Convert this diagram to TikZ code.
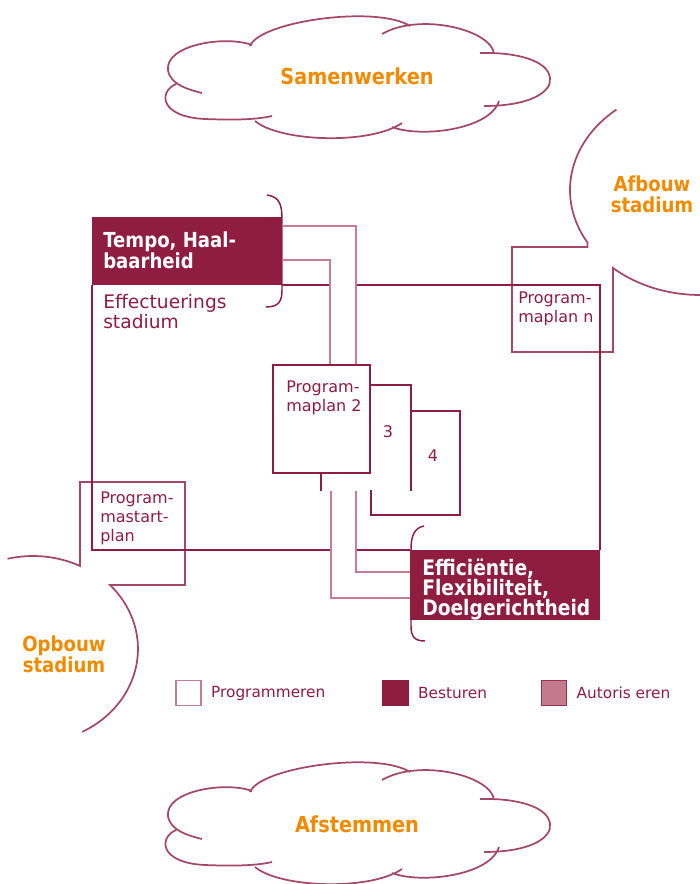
\documentclass[tikz,border=0pt]{standalone}
\usepackage{fontspec}
\setmainfont{DejaVu Sans}[BoldFeatures={FakeStretch=0.875}]
\usetikzlibrary{calc, positioning}
\definecolor{wine}{HTML}{8E1D41}
\definecolor{authc}{HTML}{C47D92}
\definecolor{cloudc}{HTML}{A54868}
\definecolor{orangec}{HTML}{F28A00}
\definecolor{autfill}{HTML}{C27A8C}
\tikzset{
    cloudline/.style={draw=cloudc, line width=1.3pt},
    planline/.style={draw=wine, line width=1.3pt},
    authline/.style={draw=authc, line width=1.5pt},
    bracket/.style={draw=wine, line width=1.1pt},
    besturen/.style={rectangle, fill=wine, inner sep=0pt, minimum width=142.5pt},
    bestext/.style={anchor=north west, inner sep=0pt, text=white, align=left},
    planbox/.style={rectangle, draw=wine, line width=1.3pt, fill=white, inner sep=0pt},
    plantext/.style={anchor=north west, inner sep=0pt, text=wine, align=left, font=\fontsize{12}{14}\selectfont},
    numtext/.style={inner sep=0pt, text=wine, font=\fontsize{12}{14}\selectfont},
    stagetext/.style={anchor=north west, inner sep=0pt, text=wine, align=left, font=\fontsize{14}{15}\selectfont},
    stadium/.style={anchor=north, inner sep=0pt, text=orangec, align=center, font=\bfseries\fontsize{15.5}{15.5}\selectfont},
    cloudtext/.style={anchor=base, inner sep=0pt, text=orangec, font=\bfseries\fontsize{16.5}{17}\selectfont},
    legbox/.style={rectangle, minimum size=18.5pt, inner sep=0pt, line width=1.1pt},
    legtext/.style={inner sep=0pt, text=wine, font=\fontsize{11.5}{13}\selectfont},
    cloudshape/.pic={
        \draw[cloudline] (-105,-34) .. controls (-132,-44) and (-192,-34) .. (-189,-9) .. controls (-187,6) and (-167,11) .. (-155,14)
            (-181,5) .. controls (-199,13) and (-197,38) .. (-152,40) .. controls (-127,41) and (-102,41) .. (-85,37)
            (-102,42) .. controls (-77,63) and (13,66) .. (45,44)
            (35,48) .. controls (63,59) and (133,51) .. (142,22)
            (127,27) .. controls (173,27) and (195,13) .. (193,-1) .. controls (191,-19) and (158,-27) .. (123,-26)
            (137,-25) .. controls (135,-49) and (63,-67) .. (25,-45)
            (-107,-33) .. controls (-97,-58) and (20,-74) .. (53,-53);
    }
}

\begin{document}
\begin{tikzpicture}[x=0.75pt, y=-0.75pt]
    \useasboundingbox (0,0) rectangle (699,884);

    % clouds top and bottom
    \pic (samencloud) at (357,79) {cloudshape};
    \node[cloudtext] (samen) at (357,85) {Samenwerken};
    \pic (afstemcloud) at (357,825) {cloudshape};
    \node[cloudtext] (afstem) at (357,832) {Afstemmen};

    % stage clouds with their tabs
    \draw[cloudline] (700,190) ++(230:130 and 105) arc[start angle=230, end angle=150, x radius=130, y radius=105]
        |- (512,247) -- (512,352) -- (613,352) -- (613,268) arc[start angle=132, end angle=88, x radius=130, y radius=105];
    \draw[cloudline] (33,650) ++(-104:105 and 94) arc[start angle=-104, end angle=-63.4, x radius=105, y radius=94]
        |- (185,482) -- (185,585) -- (110,585) arc[start angle=-42.8, end angle=62, x radius=105, y radius=94];
    \node[stadium] (afbouw) at (652,176) {Afbouw\\stadium};
    \node[stadium] (opbouw) at (64,636) {Opbouw\\stadium};

    % brackets
    \draw[bracket] (267,195) .. controls (280,197) and (282,205) .. (282,220) -- (282,290) .. controls (282,301) and (279,307) .. (266,307);
    \draw[bracket] (424,526) .. controls (414,528) and (411,536) .. (411,550) -- (411,626) .. controls (411,636) and (414,641) .. (425,641);

    % besturen boxes
    \node[besturen, minimum height=51pt] (tempo) at (187,251) {};
    \node[bestext, font=\bfseries\fontsize{15.5}{15.75}\selectfont] (tempotxt) at (103,232) {Tempo, Haal-\\baarheid};
    \node[besturen, minimum height=52.5pt] (efficient) at (505,585) {};
    \node[bestext, font=\bfseries\fontsize{16}{15}\selectfont] (efficienttxt) at (422,559) {Efficiëntie,\\Flexibiliteit,\\Doelgerichtheid};

    % programmaplannen
    \node[planbox, minimum width=66.75pt, minimum height=78pt] (plan4) at (415.5,463) {};
    \node[planbox, draw=none, minimum width=66pt, minimum height=78pt] (plan3) at (366,438) {};
    \draw[planline] (plan3.south west) -- (plan3.north west) -- (plan3.north east) -- (plan3.south east);
    \node[planbox, minimum width=72.75pt, minimum height=81pt] (plan2) at (321.5,419) {};
    \node[plantext] (plan2txt) at (286,381) {Program-\\maplan 2};
    \node[numtext] (num3) at (388,432) {3};
    \node[numtext] (num4) at (433,456) {4};
    \node[plantext] (planntxt) at (518,292) {Program-\\maplan n};
    \node[plantext] (starttxt) at (100,492) {Program-\\mastart-\\plan};
    \node[stagetext] (effect) at (103,294) {Effectuerings\\stadium};

    % effectuerings stadium
    \coordinate (upL) at (330,0);
    \coordinate (upR) at (356,0);
    \coordinate (chanL) at ($(plan3.south west)+(10,0)$);
    \coordinate (chanR) at ($(plan3.south west)+(35,0)$);
    \draw[planline] (tempo.south west) |- (chanL |- efficient.north);
    \draw[planline] (chanR |- efficient.north) -- (efficient.north west);
    \draw[planline] (tempo.south east) -- (upL |- tempo.south);
    \draw[planline] (upR |- tempo.south) -| (efficient.north east);

    % autoriseren
    \draw[authline] (tempo.east |- 0,226) -| (upR |- plan2.north);
    \draw[authline] (tempo.east |- 0,260) -| (upL |- plan2.north);
    \draw[authline] (chanL) |- (efficient.west |- 0,598);
    \draw[authline] (chanR) |- (efficient.west |- 0,572);

    % legend
    \node[legbox, draw=authc, fill=white] (legprog) at (188.5,693) {};
    \node[legtext, right=7pt of legprog] (legprogtxt) {Programmeren};
    \node[legbox, draw=wine, fill=wine] (legbest) at (395.5,693) {};
    \node[legtext, right=7pt of legbest] (legbesttxt) {Besturen};
    \node[legbox, draw=wine!80!authc, fill=autfill] (legaut) at (554,693) {};
    \node[legtext, right=7pt of legaut] (legauttxt) {Autoris eren};
\end{tikzpicture}
\end{document}
